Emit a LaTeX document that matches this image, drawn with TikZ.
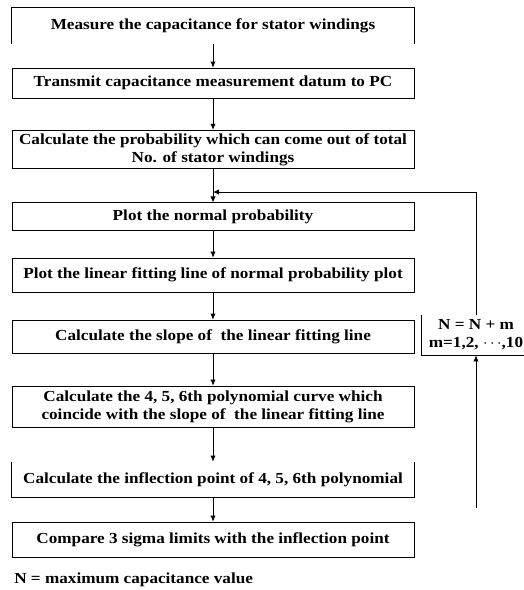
\documentclass[tikz,border=0pt]{standalone}
\usepackage{fontspec}
\setmainfont{Liberation Serif}[FakeStretch=1.12]
\usetikzlibrary{arrows.meta}

\tikzset{
  stepbox/.style={draw, line width=0.6pt, minimum width=301.5pt, align=center, font=\bfseries\fontsize{11.5}{13.5}\selectfont, inner sep=2pt},
  plainbox/.style={stepbox, draw=none},
  flow/.style={line width=0.6pt, -{Latex[length=4.5pt,width=4pt]}}
}

\begin{document}
\begin{tikzpicture}[x=0.75pt,y=-0.75pt]
\useasboundingbox (0,0) rectangle (524,590);
% main chain of steps
\node[plainbox, minimum height=27pt] (measure) at (213,26) {Measure the capacitance for stator windings};
\draw[line width=0.6pt] (measure.south west) -- (measure.north west) -- (measure.north east) -- (measure.south east);
\node[stepbox, minimum height=22.5pt] (transmit) at (213,83) {Transmit capacitance measurement datum to PC};
\node[stepbox, minimum height=29pt] (calcprob) at (213,149.5) {Calculate the probability which can come out of total\\No. of stator windings};
\node[stepbox, minimum height=20.5pt] (plotnorm) at (213,216.5) {Plot the normal probability};
\node[stepbox, minimum height=25.5pt] (plotfit) at (213,275) {Plot the linear fitting line of normal probability plot};
\node[stepbox, minimum height=24.75pt] (slope) at (213,336.5) {Calculate the slope of ~the linear fitting line};
\node[stepbox, minimum height=30.75pt] (poly) at (213,406.5) {Calculate the 4, 5, 6th polynomial curve which\\coincide with the slope of ~the linear fitting line};
\node[plainbox, minimum height=26.25pt] (inflect) at (213,479.5) {Calculate the inflection point of 4, 5, 6th polynomial};
\draw[line width=0.6pt] (inflect.north west) -- (inflect.south west) -- (inflect.south east) -- (inflect.north east);
\node[stepbox, minimum height=26.25pt] (compare) at (213,539.5) {Compare 3 sigma limits with the inflection point};
\node[anchor=west, font=\bfseries\fontsize{11.5}{13.5}\selectfont, inner sep=0pt] (note) at (14,580) {N = maximum capacitance value};

\draw[flow] (measure) -- (transmit);
\draw[flow] (transmit) -- (calcprob);
\draw[flow] (calcprob) -- (plotnorm);
\draw[flow] (plotnorm) -- (plotfit);
\draw[flow] (plotfit) -- (slope);
\draw[flow] (slope) -- (poly);
\draw[flow] (poly) -- (inflect);
\draw[flow] (inflect) -- (compare);

% feedback loop
\node[plainbox, minimum width=81pt, minimum height=30pt] (update) at (476,335) {N = N + m\\m=1,2, $\cdots$,10};
\draw[line width=0.6pt] (update.north west) -- (update.south west) -- (update.south east);
\coordinate (loopin) at (476,508);
\coordinate (loopup) at (476,192);
\coordinate (loopend) at (213,192);
\draw[flow] (loopin) -- (update.south);
\draw[flow] (update.north) -- (loopup) -- (loopend);
\end{tikzpicture}
\end{document}
